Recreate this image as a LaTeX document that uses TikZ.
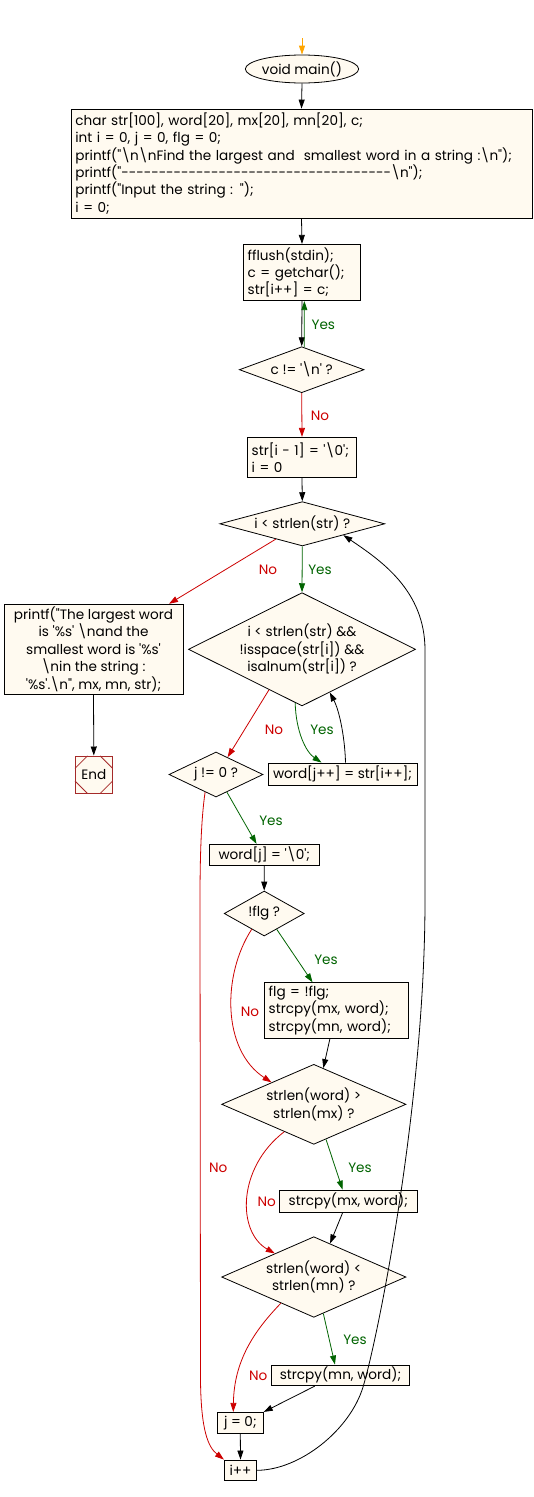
\documentclass[tikz,border=0pt]{standalone}
\usepackage{fontspec}
\setmainfont{Poppins}[Ligatures={TeXOff}]
\usetikzlibrary{calc,shapes.geometric,arrows.meta}
\definecolor{fw}{HTML}{FFFAF0}
\definecolor{gr}{HTML}{006400}
\definecolor{rd}{HTML}{CD0000}
\definecolor{br}{HTML}{A52A2A}
\definecolor{og}{HTML}{FFA500}
\newcommand{\fsz}{\fontsize{13.6}{17.4}\selectfont}
\newcommand{\bs}{\textbackslash}
\begin{document}
\begin{tikzpicture}[x=1pt,y=-1pt,
  base/.style={draw=black, fill=fw, line width=0.8pt, font=\fsz, inner sep=0pt},
  lbox/.style={base, rectangle, inner xsep=4.4pt, align=left},
  cbox/.style={base, rectangle, align=center},
  dia/.style={base, diamond, align=center, inner sep=-6pt},
  ell/.style={base, ellipse},
  arr/.style={-{Triangle[length=9pt,width=6pt]}, line width=0.8pt},
  yarr/.style={arr, color=gr},
  narr/.style={arr, color=rd},
  ylbl/.style={text=gr, font=\fsz, inner sep=0pt},
  nlbl/.style={text=rd, font=\fsz, inner sep=0pt}]
\useasboundingbox (0,0) rectangle (534,1497);
\fill[white] (0,0) rectangle (534,1497);

% nodes
\coordinate (top) at (302,38);
\node[ell, minimum width=103pt, minimum height=28pt] (st) at (302,69) {void main()};
\node[lbox, minimum width=461pt, minimum height=109pt, text width=452.2pt] (b1) at (301.5,163.5)
  {char str[100], word[20], mx[20], mn[20], c;\\
   int i = 0, j = 0, flg = 0;\\
   printf("\bs n\bs nFind the largest and \ smallest word in a string :\bs n");\\
   printf("------------------------------------\bs n");\\
   printf("Input the string : ");\\
   i = 0;};
\node[lbox, minimum width=117.4pt, minimum height=56.4pt, text width=108.6pt] (b2) at (302,272.5)
  {fflush(stdin);\\ c = getchar();\\ str[i++] = c;};
\node[dia, minimum width=124.7pt, minimum height=46pt, shape aspect=2.71] (d1) at (301.7,369.7) {c != '\bs n' ?};
\node[lbox, minimum width=109.4pt, minimum height=40.4pt, text width=100.6pt] (b3) at (302,457.5)
  {str[i - 1] = '\bs 0';\\ i = 0};
\node[dia, minimum width=165pt, minimum height=44.3pt, shape aspect=3.72] (d2) at (302.3,523.8) {i < strlen(str) ?};
\node[cbox, minimum width=179pt, minimum height=90pt] (pr) at (93.5,649.2)
  {printf("The largest word\\ is '\%s' \bs nand the\\ smallest word is '\%s'\\ \bs nin the string :\\ '\%s'.\bs n", mx, mn, str);};
\node[base, draw=br, minimum width=37.6pt, minimum height=37.6pt] (en) at (93.8,774.7) {End};
\node[dia, minimum width=227pt, minimum height=113.3pt, shape aspect=2.0] (d3) at (302,649.3)
  {i < strlen(str) \&\&\\ !isspace(str[i]) \&\&\\ isalnum(str[i]) ?};
\node[cbox, minimum width=149pt, minimum height=22pt] (wj) at (342.5,774) {word[j++] = str[i++];};
\node[dia, minimum width=94pt, minimum height=45pt, shape aspect=2.09] (j) at (216,774.5) {j != 0 ?};
\node[cbox, minimum width=110pt, minimum height=21.4pt] (wj0) at (264.3,855) {word[j] = '\bs 0';};
\node[dia, minimum width=80pt, minimum height=45pt, shape aspect=1.78] (df) at (264.2,913.5) {!flg ?};
\node[lbox, minimum width=144pt, minimum height=55.6pt, text width=135.2pt] (flg) at (336.3,1010.5)
  {flg = !flg;\\ strcpy(mx, word);\\ strcpy(mn, word);};
\node[dia, minimum width=184.3pt, minimum height=80pt, shape aspect=2.3] (d4) at (313.8,1104.3)
  {strlen(word) >\\ strlen(mx) ?};
\node[cbox, minimum width=138pt, minimum height=22.3pt] (mx) at (348.3,1201.2) {strcpy(mx, word);};
\node[dia, minimum width=184.3pt, minimum height=80.6pt, shape aspect=2.3] (d5) at (313.8,1277)
  {strlen(word) <\\ strlen(mn) ?};
\node[cbox, minimum width=137.6pt, minimum height=20.7pt] (mn) at (340.5,1375.3) {strcpy(mn, word);};
\node[cbox, minimum width=46pt, minimum height=21pt] (j0) at (240.3,1422.8) {j = 0;};
\node[cbox, minimum width=32.4pt, minimum height=20.7pt] (ip) at (240.5,1470.3) {i++};

% End inner diamond
\draw[br, line width=0.8pt] ($(en.center)+(-6.3,-18.8)$) -- ($(en.center)+(-18.8,-6.3)$);
\draw[br, line width=0.8pt] ($(en.center)+(6.3,-18.8)$) -- ($(en.center)+(18.8,-6.3)$);
\draw[br, line width=0.8pt] ($(en.center)+(-6.3,18.8)$) -- ($(en.center)+(-18.8,6.3)$);
\draw[br, line width=0.8pt] ($(en.center)+(6.3,18.8)$) -- ($(en.center)+(18.8,6.3)$);

% labels
\node[ylbl] (ly1) at (323.3,325) {Yes};
\node[nlbl] (ln1) at (320,416) {No};
\node[nlbl] (ln2) at (268,570) {No};
\node[ylbl] (ly2) at (320,570) {Yes};
\node[nlbl] (ln3) at (274,730) {No};
\node[ylbl] (ly3) at (322,730) {Yes};
\node[ylbl] (ly4) at (271,820.7) {Yes};
\node[nlbl] (ln4) at (218.3,1168) {No};
\node[ylbl] (ly5) at (326,960) {Yes};
\node[nlbl] (ln5) at (250,1011.7) {No};
\node[ylbl] (ly6) at (360,1167.7) {Yes};
\node[nlbl] (ln6) at (266.7,1201.7) {No};
\node[ylbl] (ly7) at (355,1340) {Yes};
\node[nlbl] (ln7) at (258.3,1376) {No};

% connectors
\draw[arr, color=og] (top) -- (st.north);
\draw[arr] (st.south) -- (b1.north);
\draw[arr] (b1.south) -- (b2.north);
\draw[arr] (b2.south) -- (d1.north);
\draw[yarr] ($(d1.north)!0.04!(d1.east)$) -- ($(b2.south west)!0.52!(b2.south east)$);
\draw[narr] (d1.south) -- (b3.north);
\draw[arr] (b3.south) -- (d2.north);
\draw[narr] ($(d2.south)!0.32!(d2.west)$) -- ($(pr.north east)!0.08!(pr.north west)$);
\draw[yarr] (d2.south) -- (d3.north);
\draw[arr] (pr.south) -- (en.north);
\draw[narr] ($(d3.south)!0.29!(d3.west)$) -- ($(j.north)!0.245!(j.east)$);
\draw[yarr] ($(d3.south)!0.06!(d3.west)$) .. controls (296,732) and (306,752) .. ($(wj.north west)!0.36!(wj.north east)$);
\draw[arr] ($(wj.north west)!0.52!(wj.north east)$) .. controls (345,740) and (340,712) .. ($(d3.south)!0.244!(d3.east)$);
\draw[yarr] ($(j.south)!0.23!(j.east)$) -- ($(wj0.north west)!0.43!(wj0.north east)$);
\draw[narr] ($(j.south)!0.23!(j.west)$) .. controls (201,820) and (200,860) .. (200,900)
  -- (200.5,1380) .. controls (201,1430) and (208,1447) .. (ip.north west);
\draw[arr] (wj0.south) -- (df.north);
\draw[yarr] ($(df.south)!0.31!(df.east)$) -- ($(flg.north west)!0.336!(flg.north east)$);
\draw[narr] ($(df.south)!0.31!(df.west)$) .. controls (222,975) and (222,1050) .. ($(d4.north)!0.457!(d4.west)$);
\draw[arr] ($(flg.south west)!0.456!(flg.south east)$) -- ($(d4.north)!0.103!(d4.east)$);
\draw[yarr] ($(d4.south)!0.132!(d4.east)$) -- ($(mx.north west)!0.459!(mx.north east)$);
\draw[narr] ($(d4.south)!0.32!(d4.west)$) .. controls (237,1168) and (237,1232) .. ($(d5.north)!0.421!(d5.west)$);
\draw[arr] ($(mx.south west)!0.459!(mx.south east)$) -- ($(d5.north)!0.176!(d5.east)$);
\draw[yarr] ($(d5.south)!0.103!(d5.east)$) -- ($(mn.north west)!0.46!(mn.north east)$);
\draw[narr] ($(d5.south)!0.356!(d5.west)$) .. controls (255,1330) and (234,1360) .. ($(j0.north west)!0.35!(j0.north east)$);
\draw[arr] ($(mn.south west)!0.315!(mn.south east)$) -- (j0.north east);
\draw[arr] (j0.south) -- (ip.north);
\draw[arr] (ip.east) .. controls (300,1470) and (350,1430) .. (363,1387)
  .. controls (379,1334) and (425,1100) .. (425,900) -- (425,650)
  .. controls (425,590) and (380,560) .. ($(d2.south)!0.496!(d2.east)$);
\end{tikzpicture}
\end{document}
